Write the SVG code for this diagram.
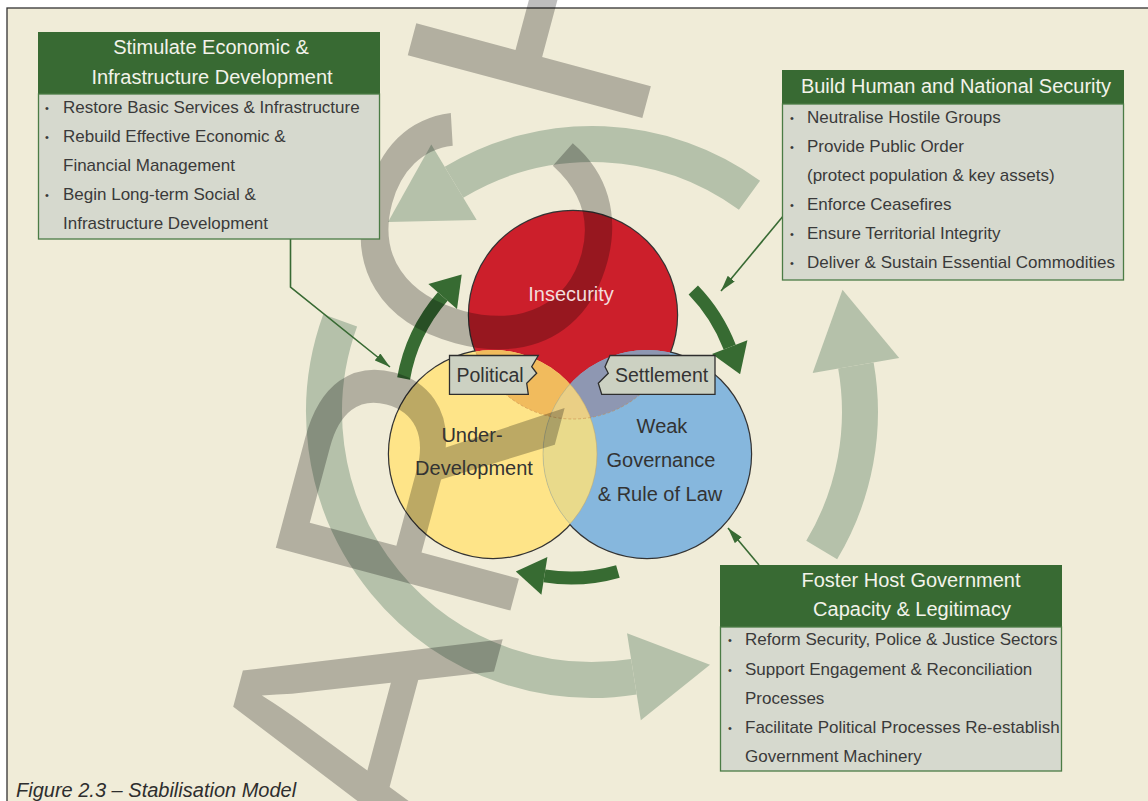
<svg xmlns="http://www.w3.org/2000/svg" width="1148" height="801" viewBox="0 0 1148 801">
<style>
.hdr{font-family:"Liberation Sans",Arial,sans-serif;font-size:20px;fill:#f3f3ea;text-anchor:middle}
.body{font-family:"Liberation Sans",Arial,sans-serif;font-size:17px;fill:#3a3a3a}
.bul{font-family:"Liberation Sans",Arial,sans-serif;font-size:11px;fill:#3a3a3a}
.vl{font-family:"Liberation Sans",Arial,sans-serif;font-size:20px;fill:#333;text-anchor:middle}
.lab{font-family:"Liberation Sans",Arial,sans-serif;font-size:19.5px;fill:#333}
.hbox{fill:#386a33}
.bbox{fill:#d6d9ce;stroke:#4b7c45;stroke-width:1.3}
.sage{fill:none;stroke:#b5c1aa;stroke-width:36}
.sageh{fill:#b5c1aa}
.garc{fill:none;stroke:#376b32;stroke-width:13}
.gh{fill:#376b32}
.conn{fill:none;stroke:#386a33;stroke-width:1.6}
.tag{fill:#ccd1c2;stroke:#2e2e2e;stroke-width:1.3}
</style>
<defs>
<clipPath id="cRed"><circle cx="573" cy="315" r="104"/></clipPath>
<clipPath id="cYel"><circle cx="493" cy="454" r="104"/></clipPath>
<clipPath id="cBlu"><circle cx="647" cy="454" r="104"/></clipPath>
<clipPath id="cYB"><circle cx="493" cy="454" r="104"/><circle cx="647" cy="454" r="104"/></clipPath>
<marker id="ah" viewBox="0 0 16 9" markerWidth="16" markerHeight="9" refX="16" refY="4.5" orient="auto" markerUnits="userSpaceOnUse"><path d="M0,0 L16,4.5 L0,9 z" fill="#386a33"/></marker>
</defs>
<rect x="0" y="0" width="1148" height="801" fill="#ffffff"/>
<rect x="7" y="8" width="1146" height="800" fill="#f0ecd8" stroke="#333" stroke-width="1.3"/>

<g id="cycle">
<path class="sage" d="M749.5,195.2 A268,268 0 0 0 454.0,182.3"/>
<polygon class="sageh" points="431.3,144.6 388,222 476.7,220"/>
<path class="sage" d="M821.7,550 A268,268 0 0 0 855.9,365.5"/>
<polygon class="sageh" points="899.2,357.9 842.5,289.7 812.6,373.1"/>
<path class="sage" d="M340.2,320.3 A268,268 0 0 0 633.9,676.7"/>
<polygon class="sageh" points="640.8,720.2 710,664.7 627,633.2"/>
</g>

<g id="venn">
<g fill="none" stroke="#333" stroke-width="2.4">
<circle cx="573" cy="315" r="104"/>
<circle cx="493" cy="454" r="104"/>
<circle cx="647" cy="454" r="104"/>
</g>
<circle cx="573" cy="315" r="104" fill="#cc1f2b"/>
<circle cx="493" cy="454" r="104" fill="#fee488"/>
<circle cx="647" cy="454" r="104" fill="#86b7dd"/>
<circle cx="493" cy="454" r="104" fill="#f1bb5d" clip-path="url(#cRed)"/>
<circle cx="647" cy="454" r="104" fill="#8e97b2" clip-path="url(#cRed)"/>
<circle cx="647" cy="454" r="104" fill="#e9da8b" clip-path="url(#cYel)"/>
<g clip-path="url(#cRed)"><circle cx="647" cy="454" r="104" fill="#eacf85" clip-path="url(#cYel)"/></g>
<circle cx="493" cy="454" r="104" fill="none" stroke="#c4a86a" stroke-width="0.9" opacity="0.6" clip-path="url(#cBlu)"/>
<circle cx="647" cy="454" r="104" fill="none" stroke="#a0a080" stroke-width="0.9" opacity="0.5" clip-path="url(#cYel)"/>
<circle cx="573" cy="315" r="104" fill="none" stroke="#c8874a" stroke-width="0.9" stroke-dasharray="3 2" opacity="0.6" clip-path="url(#cYB)"/>
</g>

<g id="connectors">
<path class="garc" d="M403.6,378.5 A170,170 0 0 1 442.7,296.5"/>
<polygon class="gh" points="428.4,284 461.7,274.6 457,309"/>
<path class="garc" d="M693.3,289.9 A170,170 0 0 1 729.7,347.1"/>
<polygon class="gh" points="747.4,340.3 740.1,374.2 712,353.9"/>
<path class="garc" d="M617.9,571.4 A170,170 0 0 1 544.4,575.9"/>
<polygon class="gh" points="541.4,594.7 515.8,571.4 547.4,557.1"/>
<path class="conn" d="M290.5,239 V287 L390,367" marker-end="url(#ah)"/>
<path class="conn" d="M784,215 L721,291" marker-end="url(#ah)"/>
<path class="conn" d="M759,565 L728,528" marker-end="url(#ah)"/>
</g>

<text x="-722" y="651" transform="rotate(-75)" font-family="Liberation Sans, Arial, sans-serif" font-size="353" fill="#000" fill-opacity="0.26">ARCHIVE</text>

<g id="venn-labels">
<text class="vl" x="571" y="301" style="fill:#f3dcdc">Insecurity</text>
<text class="vl" x="472" y="442">Under-</text>
<text class="vl" x="474" y="475">Development</text>
<text class="vl" x="662" y="433">Weak</text>
<text class="vl" x="661" y="467">Governance</text>
<text class="vl" x="660" y="501">&amp; Rule of Law</text>
</g>

<g id="political">
<path class="tag" d="M449.5,355.5 H538.3 L531.7,366.7 L536.7,373.3 L526.7,383.3 L528.3,394.3 H449.5 Z"/>
<text class="lab" x="456.5" y="382">Political</text>
</g>
<g id="settlement">
<path class="tag" d="M610,355.5 H715 V394.3 H601.7 L598.3,383.3 L608.3,373.3 L605,366.7 Z"/>
<text class="lab" x="615" y="382">Settlement</text>
</g>

<g id="box-economic">
<rect class="hbox" x="38" y="32" width="342" height="62"/>
<rect class="bbox" x="38.5" y="94" width="341" height="145"/>
<text class="hdr" x="211" y="54">Stimulate Economic &amp;</text>
<text class="hdr" x="212" y="84">Infrastructure Development</text>
<text class="bul" x="45" y="112">•</text>
<text class="body" x="63" y="113">Restore Basic Services &amp; Infrastructure</text>
<text class="bul" x="45" y="141">•</text>
<text class="body" x="63" y="142">Rebuild Effective Economic &amp;</text>
<text class="body" x="63" y="171">Financial Management</text>
<text class="bul" x="45" y="199">•</text>
<text class="body" x="63" y="200">Begin Long-term Social &amp;</text>
<text class="body" x="63" y="229">Infrastructure Development</text>
</g>

<g id="box-security">
<rect class="hbox" x="782" y="70" width="342" height="34"/>
<rect class="bbox" x="782.5" y="104" width="341" height="176"/>
<text class="hdr" x="956" y="93">Build Human and National Security</text>
<text class="bul" x="790" y="122">•</text>
<text class="body" x="807" y="123">Neutralise Hostile Groups</text>
<text class="bul" x="790" y="151">•</text>
<text class="body" x="807" y="152">Provide Public Order</text>
<text class="body" x="807" y="181">(protect population &amp; key assets)</text>
<text class="bul" x="790" y="209">•</text>
<text class="body" x="807" y="210">Enforce Ceasefires</text>
<text class="bul" x="790" y="238">•</text>
<text class="body" x="807" y="239">Ensure Territorial Integrity</text>
<text class="bul" x="790" y="267">•</text>
<text class="body" x="807" y="268">Deliver &amp; Sustain Essential Commodities</text>
</g>

<g id="box-governance">
<rect class="hbox" x="720" y="565" width="342" height="62"/>
<rect class="bbox" x="720.5" y="627" width="341" height="144"/>
<text class="hdr" x="911" y="587">Foster Host Government</text>
<text class="hdr" x="912" y="616">Capacity &amp; Legitimacy</text>
<text class="bul" x="728" y="644">•</text>
<text class="body" x="745" y="645">Reform Security, Police &amp; Justice Sectors</text>
<text class="bul" x="728" y="674">•</text>
<text class="body" x="745" y="675">Support Engagement &amp; Reconciliation</text>
<text class="body" x="745" y="704">Processes</text>
<text class="bul" x="728" y="732">•</text>
<text class="body" x="745" y="733">Facilitate Political Processes Re-establish</text>
<text class="body" x="745" y="762">Government Machinery</text>
</g>

<text x="16" y="797" font-family="Liberation Sans, Arial, sans-serif" font-size="20" font-style="italic" fill="#2e2e2e">Figure 2.3 – Stabilisation Model</text>
</svg>
